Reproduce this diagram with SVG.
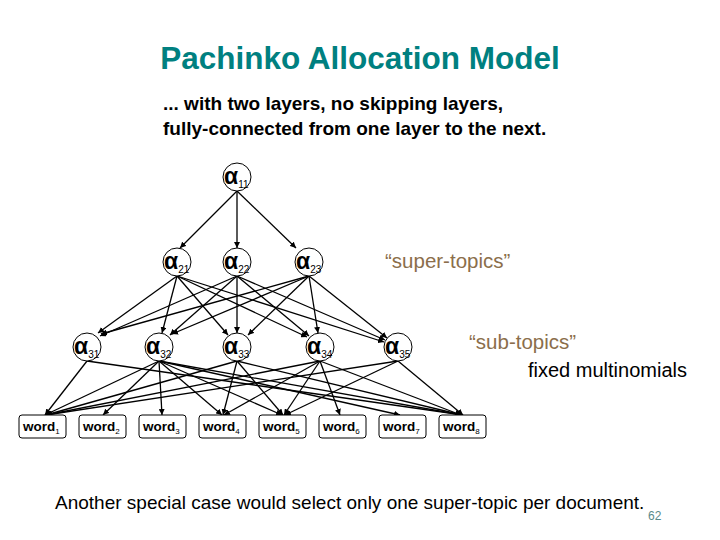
<svg xmlns="http://www.w3.org/2000/svg" width="720" height="540" viewBox="0 0 720 540">
<style>
text{font-family:"Liberation Sans",Arial,sans-serif}
.n circle{fill:#fff;stroke:#000;stroke-width:1}
.n text{font-size:23px;font-weight:bold}
.n tspan{font-size:10px;font-weight:normal}
.w rect{fill:#fff;stroke:#000;stroke-width:1}
.w text{font-size:13.5px;font-weight:bold}
.w tspan{font-size:8px;font-weight:normal}
#edges line{stroke:#000;stroke-width:1.3;marker-end:url(#a)}
.q{fill:#8b6e4b;font-size:20.5px}
</style>
<defs><marker id="a" viewBox="0 0 10 10" refX="10" refY="5" markerWidth="6" markerHeight="6" markerUnits="userSpaceOnUse" orient="auto"><path d="M0,0L10,5L0,10z"/></marker></defs>
<rect width="720" height="540" fill="#fff"/>
<text x="360" y="69" text-anchor="middle" font-size="31.5" font-weight="bold" fill="#008080">Pachinko Allocation Model</text>
<text x="163" y="110" font-size="19" font-weight="bold">... with two layers, no skipping layers,</text>
<text x="163" y="135" font-size="19" font-weight="bold">fully-connected from one layer to the next.</text>
<g id="edges">
<line x1="237" y1="191" x2="180" y2="248"/><line x1="237" y1="191" x2="237" y2="248"/><line x1="237" y1="191" x2="296" y2="248"/>
<line x1="177" y1="276" x2="98" y2="333"/><line x1="177" y1="276" x2="162" y2="333"/><line x1="177" y1="276" x2="228" y2="335"/><line x1="177" y1="276" x2="307" y2="337"/><line x1="177" y1="276" x2="384" y2="342"/>
<line x1="237" y1="276" x2="100" y2="336"/><line x1="237" y1="276" x2="170" y2="335"/><line x1="237" y1="276" x2="237" y2="333"/><line x1="237" y1="276" x2="309" y2="336"/><line x1="237" y1="276" x2="385" y2="340"/>
<line x1="309" y1="276" x2="101" y2="334"/><line x1="309" y1="276" x2="172" y2="334"/><line x1="309" y1="276" x2="248" y2="335"/><line x1="309" y1="276" x2="318" y2="333"/><line x1="309" y1="276" x2="387" y2="338"/>
<line x1="87" y1="361" x2="45" y2="415"/><line x1="87" y1="361" x2="463" y2="415"/>
<line x1="159" y1="361" x2="45" y2="415"/><line x1="159" y1="361" x2="103" y2="415"/><line x1="159" y1="361" x2="162" y2="415"/><line x1="159" y1="361" x2="222" y2="415"/><line x1="159" y1="361" x2="282" y2="415"/><line x1="159" y1="361" x2="400" y2="415"/><line x1="159" y1="361" x2="462" y2="415"/>
<line x1="237" y1="361" x2="46" y2="415"/><line x1="237" y1="361" x2="223" y2="415"/><line x1="237" y1="361" x2="283" y2="415"/><line x1="237" y1="361" x2="462" y2="415"/>
<line x1="320" y1="361" x2="46" y2="415"/><line x1="320" y1="361" x2="284" y2="415"/><line x1="320" y1="361" x2="340" y2="415"/><line x1="320" y1="361" x2="461" y2="415"/><line x1="320" y1="361" x2="224" y2="415"/>
<line x1="398" y1="361" x2="46" y2="415"/><line x1="398" y1="361" x2="463" y2="415"/><line x1="398" y1="361" x2="285" y2="415"/>
</g>
<g id="a11" class="n"><circle cx="237" cy="177" r="14"/><text x="224" y="184">α<tspan dy="4">11</tspan></text></g>
<g id="a21" class="n"><circle cx="177" cy="262" r="14"/><text x="164" y="269">α<tspan dy="4">21</tspan></text></g>
<g id="a22" class="n"><circle cx="237" cy="262" r="14"/><text x="224" y="269">α<tspan dy="4">22</tspan></text></g>
<g id="a23" class="n"><circle cx="309" cy="262" r="14"/><text x="296" y="269">α<tspan dy="4">23</tspan></text></g>
<g id="a31" class="n"><circle cx="87" cy="347" r="14"/><text x="74" y="354">α<tspan dy="4">31</tspan></text></g>
<g id="a32" class="n"><circle cx="159" cy="347" r="14"/><text x="146" y="354">α<tspan dy="4">32</tspan></text></g>
<g id="a33" class="n"><circle cx="237" cy="347" r="14"/><text x="224" y="354">α<tspan dy="4">33</tspan></text></g>
<g id="a34" class="n"><circle cx="320" cy="347" r="14"/><text x="307" y="354">α<tspan dy="4">34</tspan></text></g>
<g id="a35" class="n"><circle cx="398" cy="347" r="14"/><text x="385" y="354">α<tspan dy="4">35</tspan></text></g>
<g id="w1" class="w"><rect x="19" y="415" width="47" height="23" rx="3"/><text x="23" y="431">word<tspan dy="3">1</tspan></text></g>
<g id="w2" class="w"><rect x="79" y="415" width="47" height="23" rx="3"/><text x="83" y="431">word<tspan dy="3">2</tspan></text></g>
<g id="w3" class="w"><rect x="139" y="415" width="47" height="23" rx="3"/><text x="143" y="431">word<tspan dy="3">3</tspan></text></g>
<g id="w4" class="w"><rect x="199" y="415" width="47" height="23" rx="3"/><text x="203" y="431">word<tspan dy="3">4</tspan></text></g>
<g id="w5" class="w"><rect x="259" y="415" width="47" height="23" rx="3"/><text x="263" y="431">word<tspan dy="3">5</tspan></text></g>
<g id="w6" class="w"><rect x="319" y="415" width="47" height="23" rx="3"/><text x="323" y="431">word<tspan dy="3">6</tspan></text></g>
<g id="w7" class="w"><rect x="379" y="415" width="47" height="23" rx="3"/><text x="383" y="431">word<tspan dy="3">7</tspan></text></g>
<g id="w8" class="w"><rect x="439" y="415" width="47" height="23" rx="3"/><text x="443" y="431">word<tspan dy="3">8</tspan></text></g>
<text class="q" x="385" y="268">“super-topics”</text>
<text class="q" x="469" y="349">“sub-topics”</text>
<text x="528" y="377" font-size="20">fixed multinomials</text>
<text x="55" y="509" font-size="19">Another special case would select only one super-topic per document.</text>
<text x="648" y="520" font-size="12" fill="#5a8a8a">62</text>
</svg>
